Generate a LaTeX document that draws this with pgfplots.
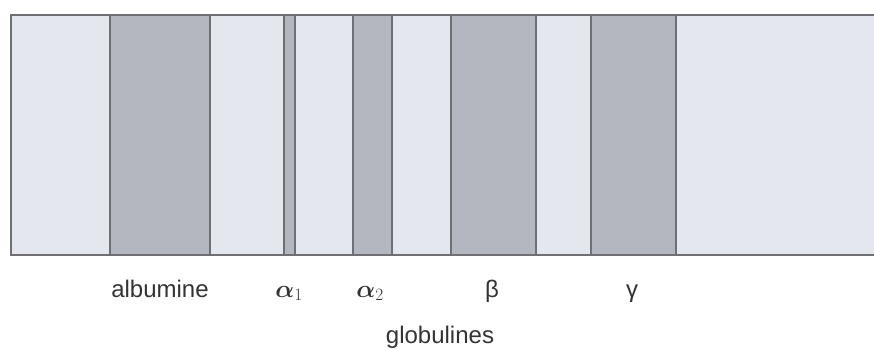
\documentclass[border=0pt]{standalone}
\usepackage{pgfplots}
\pgfplotsset{compat=1.18}
\usepackage{bm}
\usepackage{fontspec}
\setmainfont{Liberation Sans}
\definecolor{lightband}{RGB}{229,231,239}
\definecolor{darkband}{RGB}{180,183,191}
\definecolor{edge}{RGB}{112,112,116}
\begin{document}
\begin{tikzpicture}
\begin{axis}[
  width=874pt, height=349pt, scale only axis,
  xmin=0, xmax=874, ymin=0, ymax=349, y dir=reverse,
  axis lines=box, axis line style={draw=none}, ticks=none,
  clip=true,
]
% light strip
\addplot[fill=lightband, draw=edge, line width=1.8pt] coordinates {(11,15) (880,15) (880,255) (11,255)} -- cycle;
% dark bands: albumine, alpha1, alpha2, beta, gamma
\addplot[fill=darkband, draw=edge, line width=1.5pt] coordinates {(110,15) (210,15) (210,255) (110,255)} -- cycle;
\addplot[fill=darkband, draw=edge, line width=1.5pt] coordinates {(284,15) (295,15) (295,255) (284,255)} -- cycle;
\addplot[fill=darkband, draw=edge, line width=1.5pt] coordinates {(353,15) (392,15) (392,255) (353,255)} -- cycle;
\addplot[fill=darkband, draw=edge, line width=1.5pt] coordinates {(451,15) (536,15) (536,255) (451,255)} -- cycle;
\addplot[fill=darkband, draw=edge, line width=1.5pt] coordinates {(591,15) (676,15) (676,255) (591,255)} -- cycle;
\node[anchor=base, font=\fontsize{24}{28}\selectfont, text=black!80] at (axis cs:160,297) {albumine};
\node[anchor=base, font=\fontsize{24}{28}\selectfont, text=black!80] at (axis cs:289,297) {$\bm{\alpha}_1$};
\node[anchor=base, font=\fontsize{24}{28}\selectfont, text=black!80] at (axis cs:370,297) {$\bm{\alpha}_2$};
\node[anchor=base, font=\fontsize{24}{28}\selectfont, text=black!80] at (axis cs:492,297) {β};
\node[anchor=base, font=\fontsize{24}{28}\selectfont, text=black!80] at (axis cs:632,297) {γ};
\node[anchor=base, font=\fontsize{24}{28}\selectfont, text=black!80] at (axis cs:440,343) {globulines};
\end{axis}
\end{tikzpicture}
\end{document}
